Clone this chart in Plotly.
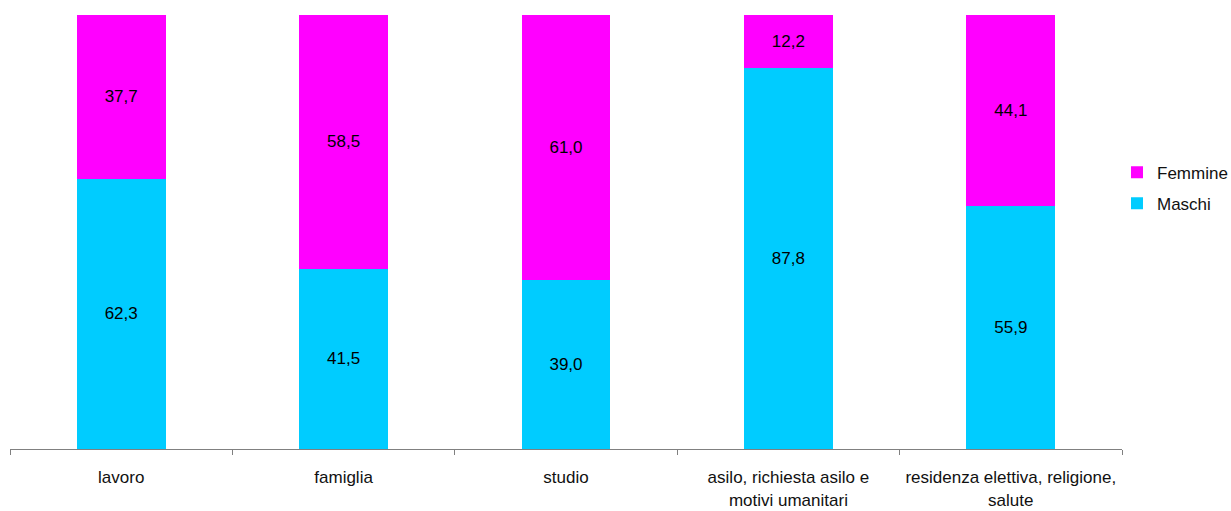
import plotly.graph_objects as go

categories = ["lavoro", "famiglia", "studio",
              "asilo, richiesta asilo e<br>motivi umanitari",
              "residenza elettiva, religione,<br>salute"]
maschi = [62.3, 41.5, 39.0, 87.8, 55.9]
femmine = [37.7, 58.5, 61.0, 12.2, 44.1]

FONT = "Liberation Sans, Arial, sans-serif"

fig = go.Figure()
fig.add_trace(go.Bar(x=categories, y=maschi, name="Maschi", legendrank=2,
                     legendgroup="m",
                     marker=dict(color="#00CCFF", line=dict(width=0)),
                     texttemplate="%{y:.1f}", textposition="inside",
                     insidetextanchor="middle", textangle=0,
                     textfont=dict(color="black", size=17, family=FONT)))
fig.add_trace(go.Bar(x=categories, y=femmine, name="Femmine", legendrank=1,
                     legendgroup="f",
                     marker=dict(color="#FF00FF", line=dict(width=0)),
                     texttemplate="%{y:.1f}", textposition="inside",
                     insidetextanchor="middle", textangle=0,
                     textfont=dict(color="black", size=17, family=FONT)))

fig.update_layout(
    width=1231, height=511,
    barmode="stack", bargap=0.6,
    separators=",.",
    plot_bgcolor="white", paper_bgcolor="white",
    font=dict(family=FONT, size=17, color="#111111"),
    margin=dict(l=10, r=109, t=15, b=62, pad=0, autoexpand=False),
    showlegend=True,
    legend=dict(x=0.9955, xanchor="left", y=0.601, yanchor="middle",
                traceorder="grouped", tracegroupgap=6,
                itemwidth=30, font=dict(size=17, family=FONT, color="#111111"),
                bgcolor="rgba(0,0,0,0)"),
)
fig.update_xaxes(showline=True, linecolor="#808080", linewidth=1,
                 ticks="outside", tickson="boundaries", ticklen=5,
                 tickcolor="#808080", tickwidth=1, showgrid=False,
                 ticklabelstandoff=13,
                 tickfont=dict(size=17, family=FONT, color="#111111"))
fig.update_yaxes(range=[0, 100], visible=False, showgrid=False)

fig.write_html("out.html")
